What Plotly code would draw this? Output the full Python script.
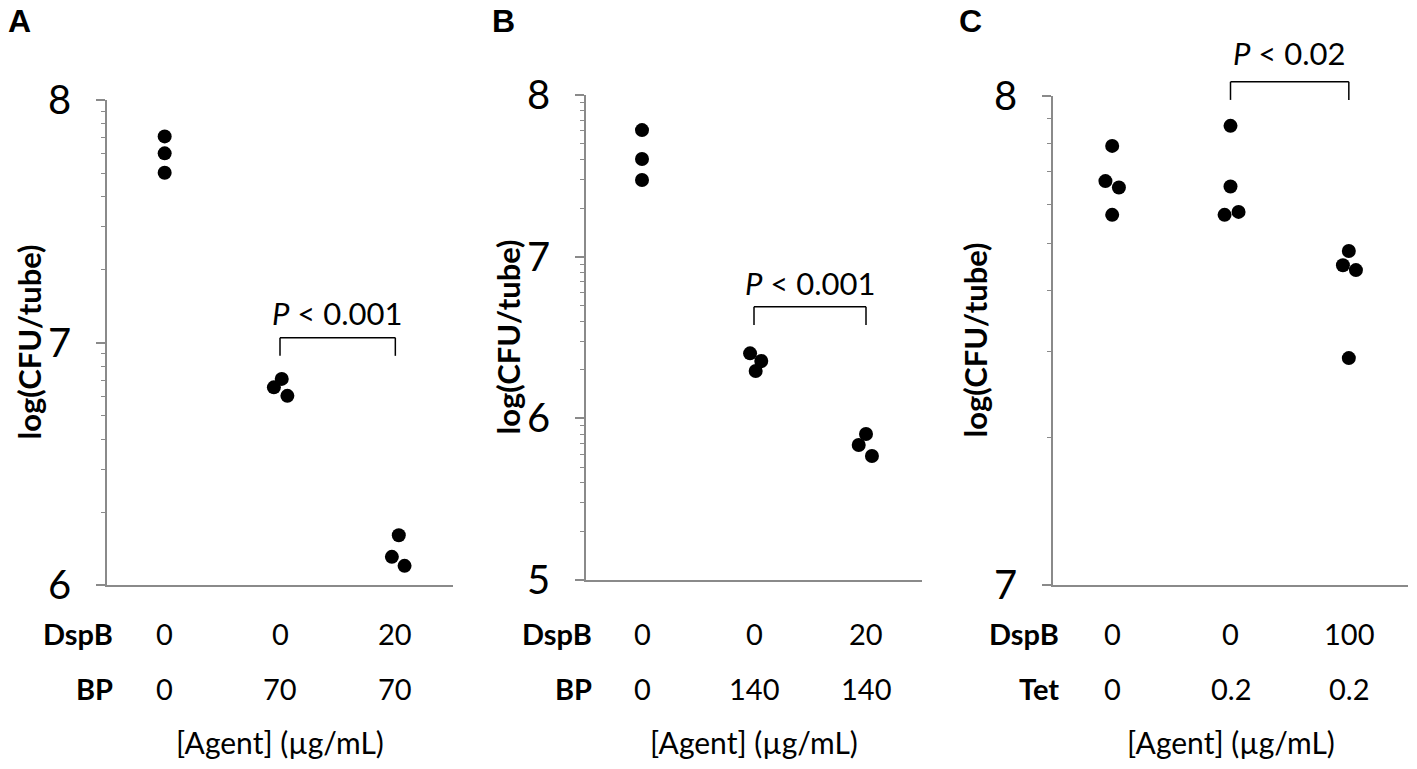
import plotly.graph_objects as go

# log10(CFU/tube), one list per condition column
panel_a = [[7.85, 7.78, 7.70], [6.85, 6.815, 6.78], [6.205, 6.116, 6.079]]
panel_b = [[7.783, 7.604, 7.474], [6.402, 6.355, 6.293], [5.903, 5.835, 5.767]]
panel_c = [[7.898, 7.826, 7.813, 7.757], [7.939, 7.815, 7.757, 7.763],
           [7.683, 7.654, 7.644, 7.464]]

# condition table under each panel
dspb_a = ['0', '0', '20']
bp_a = ['0', '70', '70']
dspb_b = ['0', '0', '20']
bp_b = ['0', '140', '140']
dspb_c = ['0', '0', '100']
tet_c = ['0', '0.2', '0.2']

p_labels = ['<i>P</i> < 0.001', '<i>P</i> < 0.001', '<i>P</i> < 0.02']

# small horizontal shifts so overlapping dots stay visible (style, not data)
jitter_a = [[0, 0, 0], [0.015, -0.053, 0.064], [0.03, -0.03, 0.08]]
jitter_b = [[0, 0, 0], [-0.035, 0.065, 0.015], [0, -0.065, 0.053]]
jitter_c = [[0, -0.057, 0.057, 0], [0, 0, -0.05, 0.068], [0, -0.05, 0.06, 0]]

W, H = 1417, 769
GREY = '#8a8a8a'
FONT = 'Lato'

panels = [
    dict(vals=panel_a, jit=jitter_a, rows=[('DspB', dspb_a), ('BP', bp_a)],
         yr=[6, 8], xdom=[107, 453], ydom=[100, 585], letter='A', lx=19,
         p=p_labels[0], p_y=7.12, br_top=7.02, br_low=6.945),
    dict(vals=panel_b, jit=jitter_b, rows=[('DspB', dspb_b), ('BP', bp_b)],
         yr=[5, 8], xdom=[586, 922], ydom=[95, 580], letter='B', lx=503,
         p=p_labels[1], p_y=6.84, br_top=6.69, br_low=6.577),
    dict(vals=panel_c, jit=jitter_c, rows=[('DspB', dspb_c), ('Tet', tet_c)],
         yr=[7, 8], xdom=[1053, 1408], ydom=[96, 585], letter='C', lx=970,
         p=p_labels[2], p_y=8.088, br_top=8.029, br_low=7.992),
]

row_y = [633, 688]
agent_y = 742

fig = go.Figure()
layout = dict(width=W, height=H, margin=dict(l=0, r=0, t=0, b=0),
              paper_bgcolor='white', plot_bgcolor='white', showlegend=False,
              font=dict(family=FONT, color='black'))
annotations = []
shapes = []


def note(**kw):
    kw.setdefault('xanchor', 'center')
    kw.setdefault('yanchor', 'middle')
    kw.setdefault('showarrow', False)
    annotations.append(kw)


for i, p in enumerate(panels):
    n = '' if i == 0 else str(i + 1)
    xa, ya = 'x' + n, 'y' + n
    xs, ys = [], []
    for col, (vals, jit) in enumerate(zip(p['vals'], p['jit'])):
        for v, j in zip(vals, jit):
            xs.append(col + j)
            ys.append(10 ** v)
    fig.add_trace(go.Scatter(x=xs, y=ys, mode='markers', xaxis=xa, yaxis=ya,
                             marker=dict(color='black', size=14), cliponaxis=False))

    x0, x1 = p['xdom'][0] / W, p['xdom'][1] / W
    y0, y1 = 1 - p['ydom'][1] / H, 1 - p['ydom'][0] / H
    lo, hi = p['yr']
    layout['xaxis' + n] = dict(domain=[x0, x1], range=[-0.5, 2.5], anchor=ya,
                               automargin=False,
                               showline=True, linecolor=GREY, linewidth=1.5,
                               showgrid=False, zeroline=False, showticklabels=False,
                               ticks='')
    layout['yaxis' + n] = dict(domain=[y0, y1], type='log', range=[lo, hi], anchor=xa,
                               automargin=False,
                               showline=True, linecolor=GREY, linewidth=1.5,
                               showgrid=False, zeroline=False,
                               tickvals=[10 ** k for k in range(lo, hi + 1)],
                               ticktext=[str(k) for k in range(lo, hi + 1)],
                               ticks='outside', ticklen=9, tickwidth=1.5, tickcolor=GREY,
                               ticklabelstandoff=17,
                               tickfont=dict(size=40, family=FONT),
                               minor=dict(ticks='outside', ticklen=4, tickwidth=1.2,
                                          tickcolor=GREY, dtick='D1', showgrid=False))

    # y title
    note(text='<b>log(CFU/tube)</b>', textangle=-90, xref='paper', yref='paper',
         x=(p['xdom'][0] - 79) / W, y=(y0 + y1) / 2, font=dict(size=31))
    # panel letter
    note(text='<b>%s</b>' % p['letter'], xref='paper', yref='paper',
         x=p['lx'] / W, y=1 - 21 / H, font=dict(size=32, family='Liberation Sans'))
    # condition table
    for (name, cells), ry in zip(p['rows'], row_y):
        note(text='<b>%s</b>' % name, xref='paper', yref='paper',
             x=(p['xdom'][0] + 8) / W, y=1 - ry / H, xanchor='right', font=dict(size=29))
        for col, c in enumerate(cells):
            note(text=c, xref=xa, yref='paper', x=col, y=1 - ry / H, font=dict(size=29))
    note(text='[Agent] (µg/mL)', xref=xa, yref='paper', x=1, y=1 - agent_y / H,
         font=dict(size=30))

    # significance bracket between columns 2 and 3
    span = hi - lo
    yt = (p['br_top'] - lo) / span
    yl = (p['br_low'] - lo) / span
    yd = ya + ' domain'
    line = dict(color='black', width=1.5)
    shapes.append(dict(type='line', xref=xa, yref=yd, x0=1, x1=2, y0=yt, y1=yt, line=line))
    shapes.append(dict(type='line', xref=xa, yref=yd, x0=1, x1=1, y0=yl, y1=yt, line=line))
    shapes.append(dict(type='line', xref=xa, yref=yd, x0=2, x1=2, y0=yl, y1=yt, line=line))
    note(text=p['p'], xref=xa, yref=yd, x=1.5, y=(p['p_y'] - lo) / span, font=dict(size=31))

layout['annotations'] = annotations
layout['shapes'] = shapes
fig.update_layout(**layout)
# drop the browser's default 8px body margin so the figure sits at the page corner
fig.write_html('out.html', config={'displayModeBar': False},
               post_script="document.body.style.margin='0px';")
